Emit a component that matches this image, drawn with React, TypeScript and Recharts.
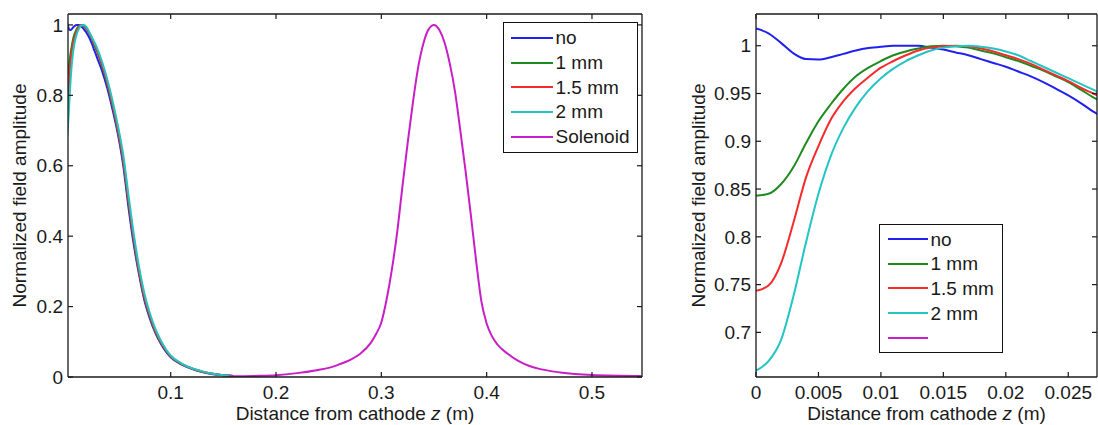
import React from 'react';
import { LineChart, Line, XAxis, YAxis, Legend } from 'recharts';

const FONT = '"Liberation Sans", Arial, Helvetica, sans-serif';
const TEXT = '#1a1a1a';
const AXIS = '#1a1a1a';

const seriesNames = ['no', '1 mm', '1.5 mm', '2 mm', 'Solenoid'];
const leftLegendLabels = ['no', '1 mm', '1.5 mm', '2 mm', 'Solenoid'];
const rightLegendLabels = ['no', '1 mm', '1.5 mm', '2 mm', ''];
const seriesColors = ['#2020f0', '#1f8a1f', '#f52a2a', '#22c4c4', '#c81ec8'];

// Near-cathode region (m)
const zNear = [0, 0.001, 0.002, 0.003, 0.004, 0.005, 0.006, 0.007, 0.008, 0.009, 0.01, 0.011, 0.012, 0.013, 0.014,
  0.015, 0.016, 0.017, 0.018, 0.019, 0.02, 0.021, 0.022, 0.023, 0.024, 0.025, 0.026, 0.027, 0.028];
const noNear = [1.018, 1.013, 1.003, 0.992, 0.986, 0.9855, 0.988, 0.9915, 0.995, 0.9975, 0.999, 1.0, 1.0, 1.0, 0.998,
  0.996, 0.993, 0.99, 0.986, 0.982, 0.978, 0.973, 0.968, 0.962, 0.955, 0.948, 0.94, 0.931, 0.924];
const mm1Near = [0.843, 0.845, 0.855, 0.873, 0.898, 0.921, 0.939, 0.955, 0.968, 0.977, 0.984, 0.99, 0.994, 0.997, 0.9995,
  1.0, 0.9995, 0.998, 0.995, 0.992, 0.988, 0.984, 0.979, 0.974, 0.968, 0.962, 0.954, 0.946, 0.939];
const mm15Near = [0.7435, 0.749, 0.772, 0.815, 0.862, 0.895, 0.923, 0.942, 0.956, 0.967, 0.977, 0.984, 0.99, 0.995, 0.998,
  0.9995, 1.0, 0.9995, 0.997, 0.994, 0.99, 0.986, 0.981, 0.975, 0.969, 0.963, 0.956, 0.95, 0.944];
const mm2Near = [0.66, 0.67, 0.692, 0.738, 0.794, 0.845, 0.885, 0.914, 0.936, 0.953, 0.966, 0.976, 0.984, 0.99, 0.995,
  0.998, 0.9995, 1.0, 0.999, 0.997, 0.994, 0.99, 0.984, 0.978, 0.972, 0.966, 0.96, 0.954, 0.948];

// Gun field tail (m)
const zFar = [0.03, 0.035, 0.04, 0.045, 0.05, 0.055, 0.06, 0.065, 0.07, 0.075, 0.08, 0.085, 0.09, 0.095, 0.1,
  0.11, 0.12, 0.13, 0.14, 0.15, 0.16];
const noFar = [0.908, 0.868, 0.818, 0.757, 0.688, 0.6, 0.48, 0.375, 0.29, 0.218, 0.168, 0.128, 0.098, 0.074, 0.056,
  0.036, 0.023, 0.014, 0.008, 0.005, 0.003];
const mm1Far = [0.925, 0.882, 0.83, 0.768, 0.697, 0.612, 0.495, 0.388, 0.298, 0.226, 0.174, 0.132, 0.101, 0.077, 0.058,
  0.037, 0.024, 0.015, 0.009, 0.005, 0.003];
const mm15Far = [0.929, 0.886, 0.834, 0.772, 0.701, 0.616, 0.5, 0.392, 0.301, 0.228, 0.176, 0.134, 0.103, 0.078, 0.059,
  0.038, 0.024, 0.015, 0.009, 0.005, 0.003];
const mm2Far = [0.935, 0.894, 0.843, 0.782, 0.712, 0.63, 0.515, 0.405, 0.312, 0.238, 0.183, 0.14, 0.107, 0.081, 0.061,
  0.039, 0.025, 0.016, 0.009, 0.005, 0.003];

// Solenoid field (m)
const zSolenoid = [0.155, 0.18, 0.2, 0.22, 0.24, 0.25, 0.26, 0.27, 0.28, 0.29, 0.295, 0.3, 0.305, 0.31, 0.315, 0.32,
  0.325, 0.33, 0.335, 0.34, 0.345, 0.35, 0.355, 0.36, 0.365, 0.37, 0.375, 0.38, 0.385, 0.39, 0.395, 0.4, 0.405,
  0.41, 0.42, 0.43, 0.44, 0.45, 0.47, 0.5, 0.547];
const solenoid = [0.002, 0.003, 0.005, 0.011, 0.02, 0.026, 0.036, 0.048, 0.066, 0.097, 0.122, 0.155, 0.22, 0.305,
  0.41, 0.54, 0.665, 0.78, 0.88, 0.948, 0.988, 1.0, 0.986, 0.95, 0.89, 0.81, 0.7, 0.585, 0.46, 0.33, 0.215, 0.152,
  0.116, 0.093, 0.066, 0.046, 0.032, 0.023, 0.013, 0.006, 0.003];

const leftXDomain = [0.0025, 0.5475];
const leftYDomain = [0, 1.031];
const rightXDomain = [0, 0.0273];
const rightYDomain = [0.6533, 1.0332];
const leftXTicks = [0.1, 0.2, 0.3, 0.4, 0.5];
const leftYTicks = [0, 0.2, 0.4, 0.6, 0.8, 1];
const rightXTicks = [0, 0.005, 0.01, 0.015, 0.02, 0.025];
const rightYTicks = [0.7, 0.75, 0.8, 0.85, 0.9, 0.95, 1];

const toRows = (zs: number[], vs: number[]) => zs.map((z, i) => ({ z, v: vs[i] }));

const gunNear = [noNear, mm1Near, mm15Near, mm2Near];
const gunFar = [noFar, mm1Far, mm15Far, mm2Far];
const gunRows = gunNear.map((near, i) => toRows([...zNear, ...zFar], [...near, ...gunFar[i]]));
const solenoidRows = toRows(zSolenoid, solenoid);
const allRows = [...gunRows, solenoidRows];

const tickStyle = { fill: TEXT, fontSize: 19, fontFamily: FONT };
const blank = () => '';

const XLabel = (props: any) => {
  const { x, y, width, height } = props.viewBox;
  return (
    <text x={x + width / 2} y={y + height - 5} textAnchor="middle" fill={TEXT} fontSize={19} fontFamily={FONT}>
      Distance from cathode <tspan fontStyle="italic">z</tspan> (m)
    </text>
  );
};

const makeYLabel = (bx: number) => (props: any) => {
  const { y, height } = props.viewBox;
  const cy = y + height / 2;
  return (
    <text x={bx} y={cy} transform={`rotate(-90, ${bx}, ${cy})`} textAnchor="middle" fill={TEXT} fontSize={19}
      fontFamily={FONT}>
      Normalized field amplitude
    </text>
  );
};

type LegendOpts = { w: number; h: number; padTop: number; padLeft: number; rowH: number; lineW: number };

const makeLegend = (labels: string[], o: LegendOpts) => () => (
  <div style={{ width: o.w, height: o.h, boxSizing: 'border-box', border: '1.5px solid #111', background: '#fff',
    paddingTop: o.padTop, fontFamily: FONT, fontSize: 19, color: TEXT }}>
    {labels.map((label, i) => (
      <div key={i} style={{ display: 'flex', alignItems: 'center', height: o.rowH, paddingLeft: o.padLeft }}>
        <div style={{ width: o.lineW, height: 2, background: seriesColors[i], marginRight: 3 }} />
        <span style={{ lineHeight: 1, whiteSpace: 'nowrap' }}>{label}</span>
      </div>
    ))}
  </div>
);

const leftLegend = makeLegend(leftLegendLabels, { w: 135, h: 131, padTop: 2.5, padLeft: 6.5, rowH: 24.7, lineW: 42 });
const rightLegend = makeLegend(rightLegendLabels, { w: 124, h: 129, padTop: 2, padLeft: 7.5, rowH: 24.6, lineW: 40 });

const axisLine = { stroke: AXIS, strokeWidth: 1.3 };
const tickLine = { stroke: AXIS, strokeWidth: 1.2 };

export default function App() {
  return (
    <div style={{ position: 'absolute', left: 0, top: 0, width: 1098, height: 425, background: '#fff' }}>
      <div style={{ position: 'absolute', left: 0, top: 0 }}>
        <LineChart width={660} height={425} margin={{ top: 13, right: 17, bottom: 0, left: 0 }}>
          <XAxis xAxisId={0} dataKey="z" type="number" domain={leftXDomain} ticks={leftXTicks} allowDataOverflow
            height={48} tickSize={-5} tickMargin={14} tick={tickStyle} axisLine={axisLine} tickLine={tickLine}
            label={{ content: XLabel }} />
          <XAxis xAxisId="top" orientation="top" dataKey="z" type="number" domain={leftXDomain} ticks={leftXTicks}
            allowDataOverflow height={1} tickSize={-5} tickFormatter={blank} axisLine={axisLine} tickLine={tickLine} />
          <YAxis yAxisId={0} type="number" domain={leftYDomain} ticks={leftYTicks} allowDataOverflow width={68}
            tickSize={-5} tickMargin={10} tick={tickStyle} axisLine={axisLine} tickLine={tickLine}
            label={{ content: makeYLabel(25.5) }} />
          <YAxis yAxisId="right" orientation="right" type="number" domain={leftYDomain} ticks={leftYTicks}
            allowDataOverflow width={1} tickSize={-5} tickFormatter={blank} axisLine={axisLine} tickLine={tickLine} />
          {allRows.map((rows, i) => (
            <Line key={i} data={rows} dataKey="v" name={seriesNames[i]} stroke={seriesColors[i]} strokeWidth={2}
              dot={false} activeDot={false} isAnimationActive={false} type="monotone" />
          ))}
          <Legend layout="horizontal" verticalAlign="middle" align="center" content={leftLegend}
            wrapperStyle={{ left: 503, top: 22, width: 135, height: 131 }} />
        </LineChart>
      </div>
      <div style={{ position: 'absolute', left: 688, top: 0 }}>
        <LineChart width={410} height={425} margin={{ top: 13, right: 0, bottom: 0, left: 0 }}>
          <XAxis xAxisId={0} dataKey="z" type="number" domain={rightXDomain} ticks={rightXTicks} allowDataOverflow
            height={48} tickSize={-5} tickMargin={14} tick={tickStyle} axisLine={axisLine} tickLine={tickLine}
            label={{ content: XLabel }} />
          <XAxis xAxisId="top" orientation="top" dataKey="z" type="number" domain={rightXDomain} ticks={rightXTicks}
            allowDataOverflow height={1} tickSize={-5} tickFormatter={blank} axisLine={axisLine} tickLine={tickLine} />
          <YAxis yAxisId={0} type="number" domain={rightYDomain} ticks={rightYTicks} allowDataOverflow width={68}
            tickSize={-5} tickMargin={10} tick={tickStyle} axisLine={axisLine} tickLine={tickLine}
            label={{ content: makeYLabel(17) }} />
          <YAxis yAxisId="right" orientation="right" type="number" domain={rightYDomain} ticks={rightYTicks}
            allowDataOverflow width={1} tickSize={-5} tickFormatter={blank} axisLine={axisLine} tickLine={tickLine} />
          {allRows.map((rows, i) => (
            <Line key={i} data={rows} dataKey="v" name={seriesNames[i]} stroke={seriesColors[i]}
              strokeWidth={2} dot={false} activeDot={false} isAnimationActive={false} type="monotone" />
          ))}
          <Legend layout="horizontal" verticalAlign="middle" align="center" content={rightLegend}
            wrapperStyle={{ left: 191, top: 224, width: 124, height: 129 }} />
        </LineChart>
      </div>
    </div>
  );
}
